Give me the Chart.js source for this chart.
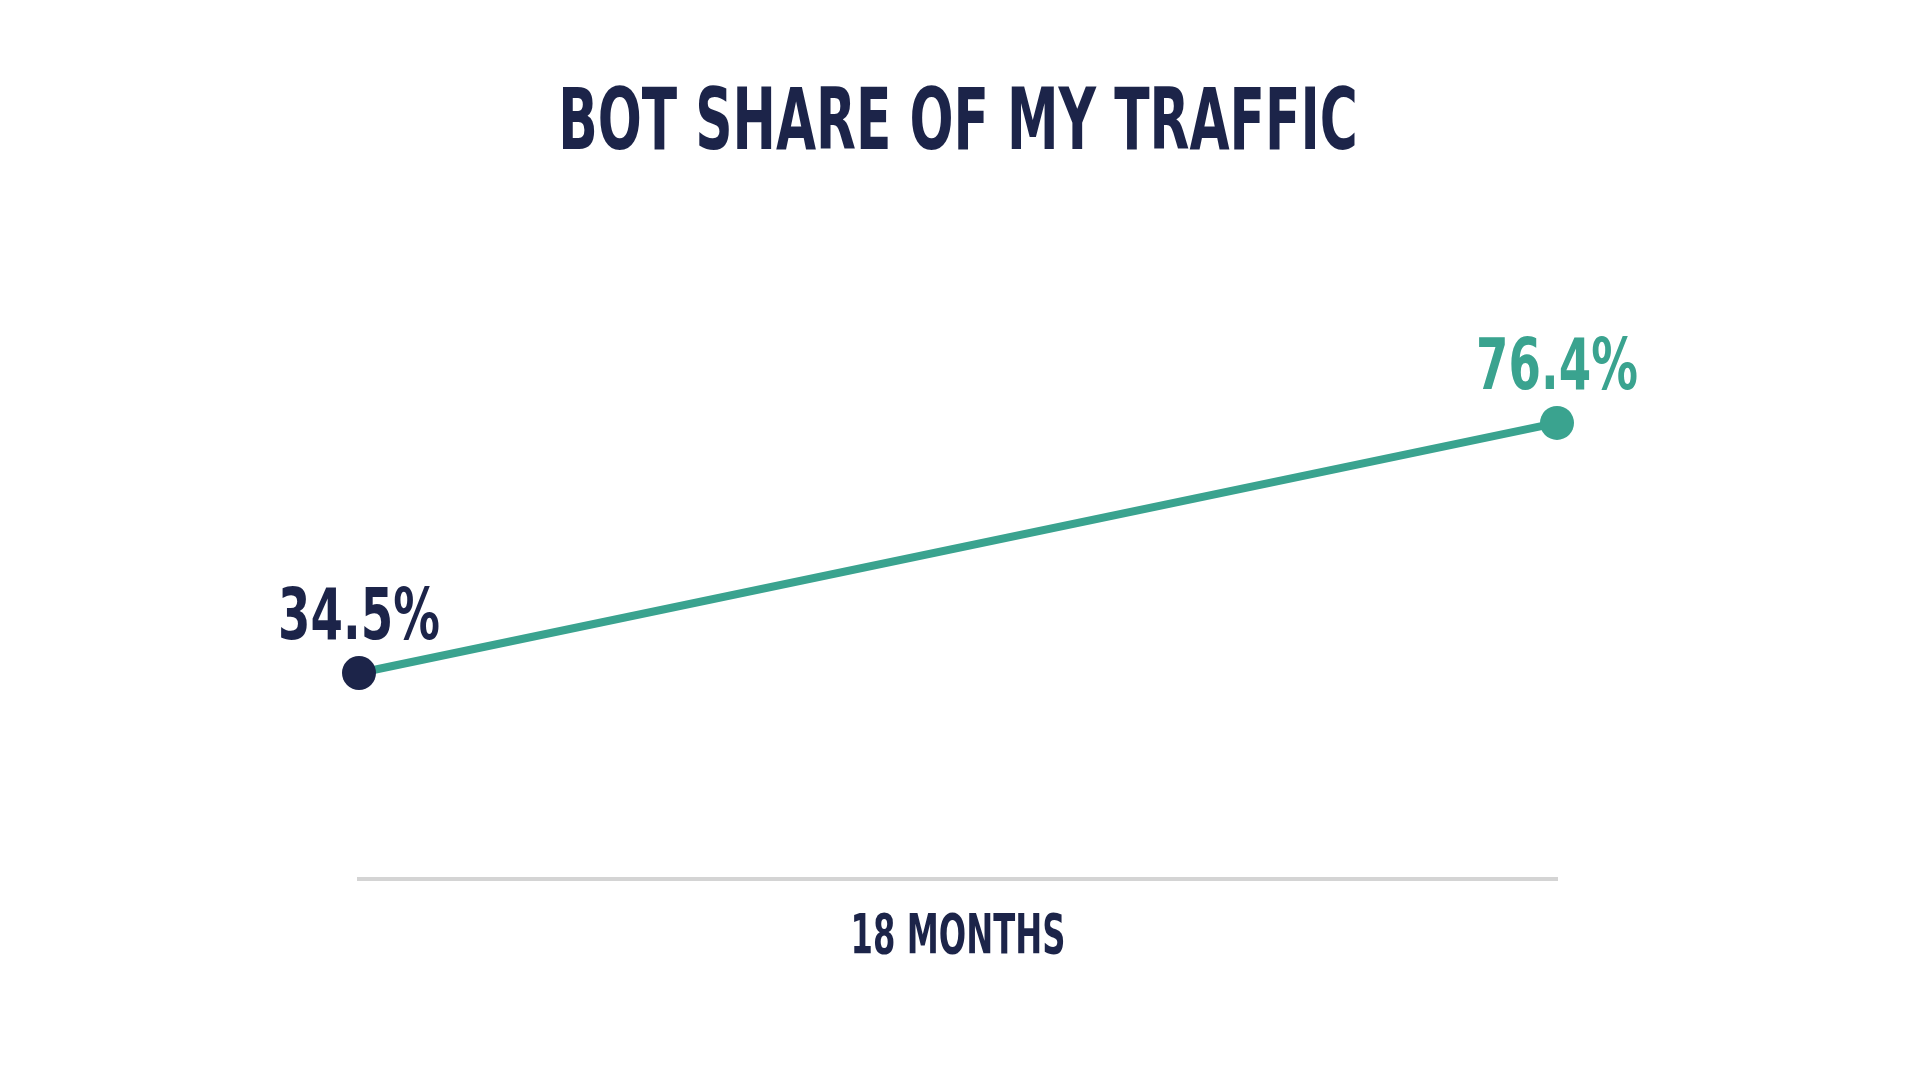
<!DOCTYPE html>
<html>
<head>
<meta charset="utf-8">
<title>Bot share of my traffic</title>
<script src="https://cdn.jsdelivr.net/npm/chart.js@4/dist/chart.umd.min.js"></script>
<style>
    html, body { margin: 0; padding: 0; background: #fff; }
    #wrap { width: 1920px; height: 1080px; }
</style>
</head>
<body>
<div id="wrap"><canvas id="botChart"></canvas></div>
<script>
// Bot share data (start and end of the 18 month window)
const chartTitle = 'BOT SHARE OF MY TRAFFIC';
const periodLabel = '18 MONTHS';
const monthPoints = [0, 18];
const botShare = [34.5, 76.4];

const navy = '#1c2449';
const teal = '#3aa38f';

// draws text squeezed horizontally, to get close to a condensed display face
function drawNarrow(ctx, text, x, y, size, squeeze, color) {
    ctx.save();
    ctx.font = 'bold ' + size + "px 'Liberation Sans Narrow', 'DejaVu Sans Condensed', sans-serif";
    ctx.fillStyle = color;
    ctx.textAlign = 'center';
    ctx.textBaseline = 'alphabetic';
    ctx.translate(x, y);
    ctx.scale(squeeze, 1);
    ctx.fillText(text, 0, 0);
    ctx.restore();
}

const textPlugin = {
    id: 'narrowText',
    afterDraw(chart) {
        const ctx = chart.ctx;
        const area = chart.chartArea;
        const centre = (area.left + area.right) / 2;

        // title and period label
        drawNarrow(ctx, chartTitle, centre, 149, 86, 0.67, navy);
        drawNarrow(ctx, periodLabel, centre, area.bottom + 74, 56, 0.64, navy);

        // value labels above each point
        const meta = chart.getDatasetMeta(0);
        meta.data.forEach(function(pt, i) {
            const color = i === 0 ? navy : teal;
            drawNarrow(ctx, botShare[i].toFixed(1) + '%', pt.x, pt.y - 34, 72, 0.72, color);
        });
    }
};

document.addEventListener('DOMContentLoaded', function() {
    const ctx = document.getElementById('botChart').getContext('2d');
    new Chart(ctx, {
        type: 'line',
        data: {
            datasets: [{
                data: monthPoints.map((m, i) => ({ x: m, y: botShare[i] })),
                borderColor: teal,
                borderWidth: 8,
                pointRadius: 17,
                pointHoverRadius: 17,
                pointBorderWidth: 0,
                pointBackgroundColor: [navy, teal],
                tension: 0,
                clip: false
            }]
        },
        options: {
            responsive: true,
            maintainAspectRatio: false,
            animation: false,
            layout: {
                padding: { top: 282, bottom: 193, left: 359, right: 363 }
            },
            plugins: {
                legend: { display: false },
                title: { display: false },
                tooltip: { enabled: false }
            },
            scales: {
                x: {
                    type: 'linear',
                    min: 0,
                    max: 18,
                    grid: { display: false },
                    ticks: { display: false },
                    border: { display: true, color: '#d4d4d4', width: 4 }
                },
                y: {
                    display: false,
                    min: 0,
                    max: 100
                }
            }
        },
        plugins: [textPlugin]
    });
});
</script>
</body>
</html>
